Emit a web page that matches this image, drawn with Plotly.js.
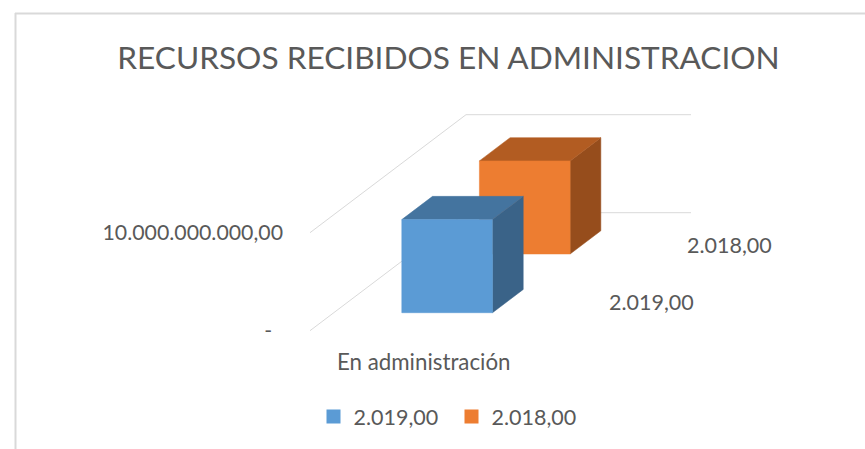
<!DOCTYPE html>
<html>
<head>
<meta charset="utf-8">
<script src="https://cdn.plot.ly/plotly-3.0.1.min.js"></script>
<style>html,body{margin:0;padding:0;background:#fff;overflow:hidden}</style>
</head>
<body>
<div id="chart" style="width:865px;height:449px"></div>
<script>
// ---- data ----
const chartTitle = 'RECURSOS RECIBIDOS EN ADMINISTRACION';
const categories = ['En administración'];
const seriesNames = ['2.019,00', '2.018,00'];
const values2019 = [9500000000];
const values2018 = [9500000000];
const tickValues = [0, 10000000000];
const tickLabels = ['-\u00a0\u00a0', '10.000.000.000,00'];

// ---- styles ----
const textColor = '#595959', gridColor = '#d9d9d9', fontFam = 'Lato, "Open Sans", sans-serif';
const palette = [
  {front:'#5b9bd5', top:'#44749f', side:'#3a6388'},
  {front:'#ed7d31', top:'#b25c22', side:'#964d1c'}
];

// ---- oblique projection of the 3D floor onto the 2D axes ----
const W = 865, H = 449;
const zeroPx = 330.7, unitPx = 98 / 1e10;      // value axis scale
const wallX = 310, wallEnd = 691;              // front of wall, end of back wall
const depthX = 156, depthY = 118;              // full floor depth in px
const barOffset = 68, barWidth = 90.7, barDepth = 0.197;
const seriesDepth = [0.1525, 0.65];

const yRange = [-(H - zeroPx) / unitPx, zeroPx / unitPx];
const lift = t => t * depthY / unitPx;          // depth -> value-axis shift
const px = t => wallX + t * depthX;

function poly(name, color, xs, ys) {
  return {type:'scatter', mode:'lines', x:xs.concat(xs[0]), y:ys.concat(ys[0]), fill:'toself',
          fillcolor:color, line:{color:color, width:0.5}, hoverinfo:'skip', showlegend:false, name:name};
}
function bar(i, value) {
  const t = seriesDepth[i], c = palette[i], n = seriesNames[i];
  const x0 = px(t) + barOffset, x1 = x0 + barWidth;
  const dx = barDepth * depthX, dv = lift(barDepth);
  const b = lift(t), v = b + value;
  return [
    poly(n, c.side,  [x1, x1+dx, x1+dx, x1], [b, b+dv, v+dv, v]),
    poly(n, c.top,   [x0, x1, x1+dx, x0+dx], [v, v, v+dv, v+dv]),
    poly(n, c.front, [x0, x1, x1, x0],       [b, b, v, v])
  ];
}
const grid = tickValues.map(v => ({
  type:'scatter', mode:'lines', hoverinfo:'skip', showlegend:false,
  x:[wallX, wallX + depthX, wallEnd], y:[v, v + lift(1), v + lift(1)],
  line:{color:gridColor, width:1}
}));
const legendTraces = seriesNames.map((n, i) => ({
  type:'scatter', mode:'markers', x:[null], y:[null], name:n,
  marker:{symbol:'square', size:14, color:palette[i].front}
}));

const traces = [...grid, ...bar(1, values2018[0]), ...bar(0, values2019[0]), ...legendTraces];

const label = (text, x, yPx, size) => ({
  text, x, y:(zeroPx - yPx) / unitPx, xref:'x', yref:'y', showarrow:false, xanchor:'center', yanchor:'middle',
  font:{family:fontFam, size:size, color:textColor}
});

Plotly.newPlot('chart', traces, {
  width:W, height:H, margin:{l:0, r:0, t:0, b:0},
  paper_bgcolor:'#fff', plot_bgcolor:'#fff',
  title:{text:chartTitle, x:448.5/W, xanchor:'center', y:1-58/H, yanchor:'middle',
         font:{family:fontFam, size:31.6, color:textColor}},
  xaxis:{range:[0, W], visible:false, fixedrange:true},
  yaxis:{range:yRange, anchor:'free', position:283/W, showgrid:false, zeroline:false, showline:false,
         ticks:'', tickmode:'array', tickvals:tickValues, ticktext:tickLabels, fixedrange:true,
         tickfont:{family:fontFam, size:21.3, color:textColor}},
  annotations:[
    label(categories[0], 424, 361, 22.3),
    label(seriesNames[0], 651, 302, 21.5),
    label(seriesNames[1], 729, 245, 21.5)
  ],
  shapes:[
    {type:'line', xref:'paper', yref:'paper', x0:15.5/W, x1:15.5/W, y0:0, y1:1-13/H, line:{color:'#d9d9d9', width:2}},
    {type:'line', xref:'paper', yref:'paper', x0:15/W, x1:1, y0:1-13.5/H, y1:1-13.5/H, line:{color:'#d9d9d9', width:2}}
  ],
  legend:{orientation:'h', x:313.5/W, y:1-416.5/H, xanchor:'left', yanchor:'middle', entrywidth:93, entrywidthmode:'pixels',
          traceorder:'normal', font:{family:fontFam, size:21.5, color:textColor}, bgcolor:'rgba(0,0,0,0)'},
  showlegend:true
}, {displayModeBar:false, staticPlot:true});
</script>
</body>
</html>
